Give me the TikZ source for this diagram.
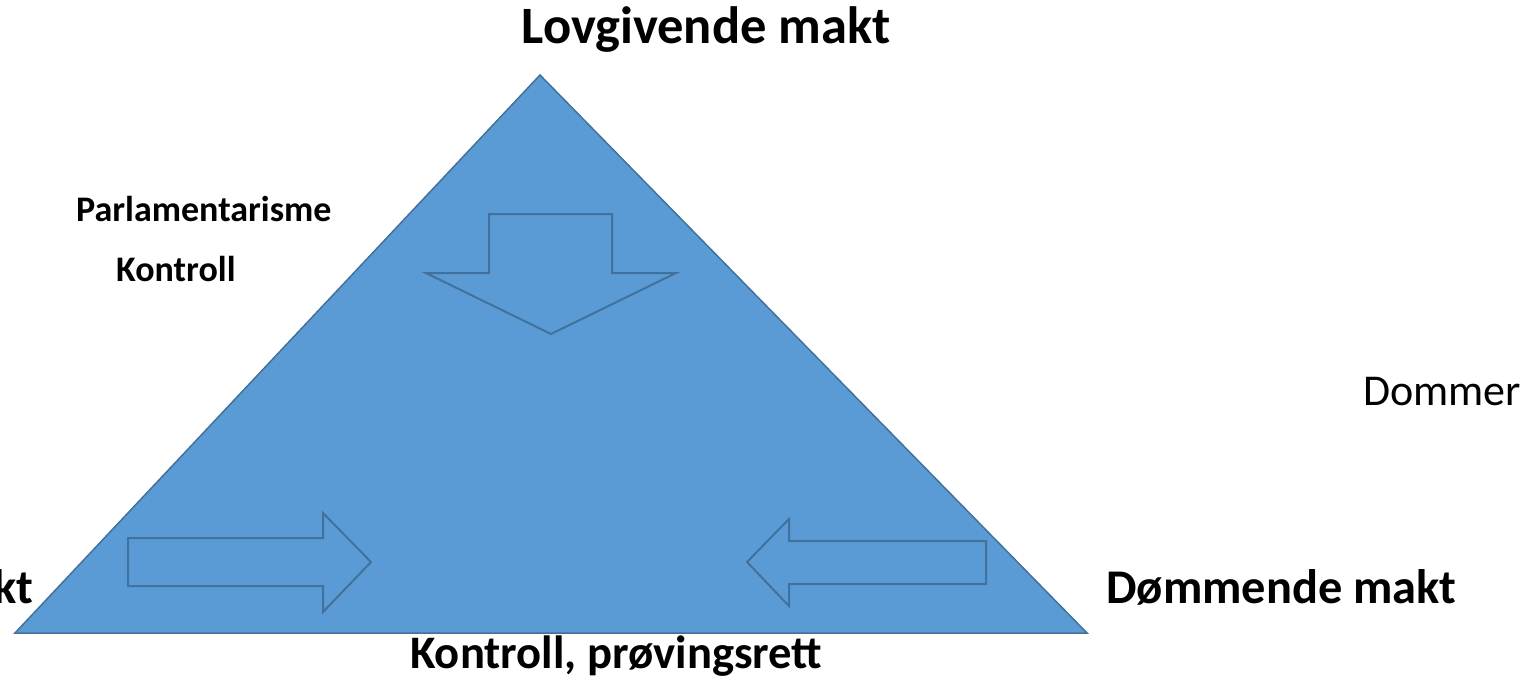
\documentclass[tikz,border=0pt]{standalone}
\usepackage{fontspec}
\setmainfont{Carlito}
\usetikzlibrary{positioning}
\definecolor{powerblue}{HTML}{5B9BD5}
\definecolor{edgeblue}{HTML}{41719C}

\begin{document}
\begin{tikzpicture}[x=1pt,y=-1pt,
    bigtxt/.style={font=\fontsize{48.4}{52}\selectfont\bfseries, inner sep=0pt},
    smalltxt/.style={font=\fontsize{36}{40}\selectfont\bfseries, inner sep=0pt},
    plaintxt/.style={font=\fontsize{44}{48}\selectfont, inner sep=0pt},
    blockarrow/.style={draw=edgeblue, line width=2pt, line join=miter}]
    \clip (0,0) rectangle (1530,678);

    % Triangle
    \draw[edgeblue, line width=1.5pt, fill=powerblue] (540,75) coordinate (apex) -- (1087,633) coordinate (rcorner) -- (15,633) coordinate (lcorner) -- cycle;

    % Down arrow
    \draw[blockarrow] (489,214) -- (612,214) -- (612,273) -- (676,273) -- (551,334) -- (426,273) -- (489,273) -- cycle;
    % Right arrow
    \draw[blockarrow] (128,538) -- (323,538) -- (323,513) -- (371,562) -- (323,612) -- (323,586) -- (128,586) -- cycle;
    % Left arrow
    \draw[blockarrow] (986,541) -- (789,541) -- (789,519) -- (747,562) -- (789,606) -- (789,584) -- (986,584) -- cycle;

    % Labels
    \node[bigtxt, font=\fontsize{52.5}{56}\selectfont\bfseries, anchor=base] (lovgiv) at (706,43) {Lovgivende makt};
    \node[smalltxt, anchor=base west] (parl) at (76,221) {Parlamentarisme};
    \node[smalltxt, anchor=base west] (kontr) at (116,281) {Kontroll};
    \node[plaintxt, anchor=base west] (dommer) at (1363,405) {Dommer};
    \node[bigtxt, anchor=base west] (domm) at (1106,603) {Dømmende makt};
    \node[bigtxt, anchor=base east] (utov) at (33,603) {Utøvende makt};
    \node[bigtxt, font=\fontsize{46.6}{50}\selectfont\bfseries, anchor=base west] (prov) at (410,668) {Kontroll, prøvingsrett};
\end{tikzpicture}
\end{document}
